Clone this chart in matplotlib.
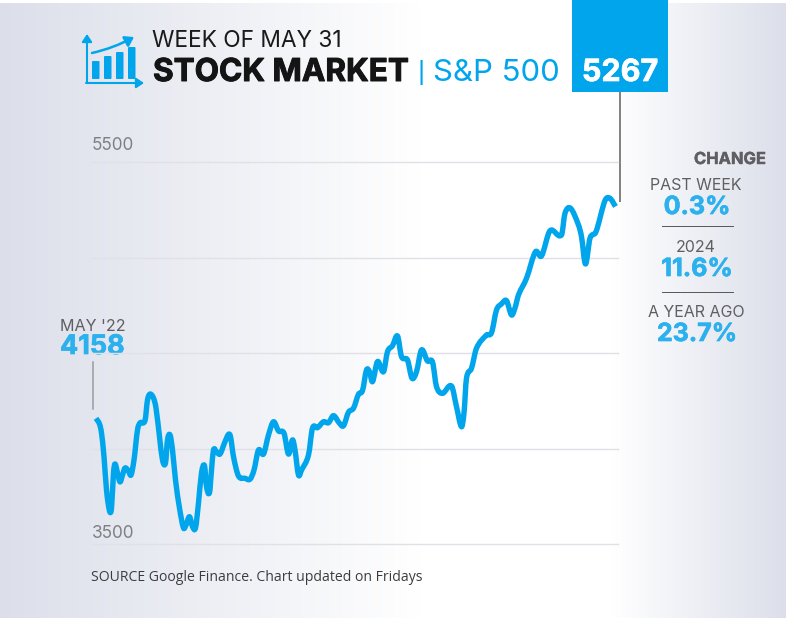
import numpy as np
import matplotlib
matplotlib.use('Agg')
import matplotlib.pyplot as plt
import matplotlib.patheffects as pe
from matplotlib.path import Path
from matplotlib.patches import Rectangle, FancyBboxPatch, FancyArrowPatch, PathPatch

# weeks since May '22 and S&P 500 close
weeks = [0, 0.7, 1.1, 1.6, 2.1, 2.7, 3.1, 3.5, 3.8, 4.3, 4.8, 5.3, 5.8, 6.5, 7, 7.6, 8.3, 8.8, 9.8, 10.3,
         10.8, 11.5, 12, 12.7, 13.3, 13.9, 14.3, 14.8, 15.3, 15.9, 16.7, 17.5, 18, 18.7, 19.3, 19.9, 20.5,
         21.1, 21.7, 22.1, 22.7, 23.1, 23.5, 24.1, 24.8, 25.7, 26.5, 26.9, 27.5, 28.5, 29.8, 30.8, 31.6,
         32.5, 33.5, 34.5, 35.5, 36.5, 37.6, 38.5, 39.3, 39.8, 40.5, 41.1, 42.5, 43.3, 44.3, 45.5, 46.5,
         47.5, 48.7, 49.5, 50.5, 51.5, 52.5, 53.3, 54.1, 54.7, 55.3, 56.3, 57.5, 58.3, 59.3, 60.3, 61.1,
         62.3, 63.2, 64.1, 65.1, 66.3, 67.3, 68.1, 69.3, 71.1, 72.1, 73.1, 73.6, 74.1, 75.1, 76.1, 78.1,
         79.1, 80.1, 81.1, 82.1, 83.1, 83.8, 84.5, 86.1, 87.9, 89.1, 90.8, 93.1, 93.8, 94.9, 96.5, 97.1,
         97.9, 98.8, 100, 101.8, 102.8, 103.9]
close = [4158, 4128, 4081, 3957, 3783, 3674, 3688, 3872, 3919, 3872, 3825, 3861, 3898, 3882, 3861, 3940,
         4097, 4134, 4146, 4254, 4285, 4264, 4212, 4062, 3940, 3924, 4045, 4071, 3992, 3835, 3688, 3584,
         3599, 3643, 3591, 3584, 3715, 3872, 3910, 3800, 3769, 3887, 3992, 3983, 3971, 4029, 4074, 4062,
         3957, 3856, 3844, 3839, 3887, 3992, 3971, 4071, 4140, 4092, 4080, 3971, 4045, 3992, 3861, 3887,
         3966, 4107, 4109, 4140, 4135, 4172, 4132, 4119, 4190, 4211, 4284, 4303, 4411, 4402, 4350, 4455,
         4402, 4507, 4538, 4589, 4481, 4463, 4368, 4402, 4516, 4458, 4453, 4324, 4289, 4327, 4219, 4114,
         4186, 4368, 4420, 4525, 4594, 4606, 4725, 4757, 4774, 4699, 4736, 4804, 4891, 5030, 5008, 5140,
         5118, 5232, 5258, 5170, 5109, 4966, 5101, 5135, 5298, 5310, 5267]
grid_levels = [3500, 4000, 4500, 5000, 5500]
label_levels = [3500, 5500]
change_labels = ['PAST WEEK', '2024', 'A YEAR AGO']
change_values = ['0.3%', '11.6%', '23.7%']

W, H = 786, 621
BLUE = '#00a5ec'
LIGHT_BLUE = '#2cb1ee'
GREY = '#5f5f63'
plt.rcParams['font.family'] = ['Inter', 'DejaVu Sans']


def smooth_path(x, y):
    # bezier through the read points so the line has no corners
    x = np.asarray(x, float)
    y = np.asarray(y, float)
    dx = np.gradient(x)
    dy = np.gradient(y)
    verts = [(x[0], y[0])]
    codes = [Path.MOVETO]
    for i in range(len(x) - 1):
        h = (x[i + 1] - x[i]) / 3
        s0 = dy[i] / dx[i]
        s1 = dy[i + 1] / dx[i + 1]
        verts += [(x[i] + h, y[i] + h * s0), (x[i + 1] - h, y[i + 1] - h * s1), (x[i + 1], y[i + 1])]
        codes += [Path.CURVE4] * 3
    return Path(verts, codes)


def heavy(color, w=0.5):
    # Inter Bold is lighter than the face in the picture
    return [pe.withStroke(linewidth=w, foreground=color)]


fig = plt.figure(figsize=(W / 100, H / 100), dpi=100)

# page in pixel coordinates, background and all the furniture goes here
bg = fig.add_axes([0, 0, 1, 1])
bg.axis('off')
xs = np.arange(W)
edge = np.array([220, 223, 234]) / 255
t = np.clip(np.maximum((420 - xs) / 420, (xs - 610) / 176), 0, 1)[None, :, None]
grad = 1 - (1 - edge) * t
bg.imshow(grad, extent=[0, W, 618, 3], aspect='auto', zorder=0)
bg.set_xlim(0, W)
bg.set_ylim(H, 0)

# chart
ax = fig.add_axes([92 / W, 1 - 544 / H, (618 - 92) / W, (544 - 162) / H])
ax.patch.set_alpha(0)
ax.set_xlim(-0.8, 104.4)
ax.set_ylim(3500, 5500)
for s in ax.spines.values():
    s.set_visible(False)
ax.set_xticks([])
ax.set_yticks(grid_levels)
ax.tick_params(length=0, labelleft=False)
ax.grid(axis='y', color='#e0e0e6', lw=1, clip_on=False)
ax.set_axisbelow(True)
ax.add_patch(PathPatch(smooth_path(weeks, close), fc='none', ec=BLUE, lw=3.9, joinstyle='round',
                       capstyle='butt', clip_on=False))
for lev, off in zip(label_levels, [6, 12]):
    ax.annotate(str(lev), (0, lev), xycoords=('axes fraction', 'data'), xytext=(0, off * 0.72),
                textcoords='offset points', fontsize=12.4, color='#808084', va='baseline', ha='left')

# leader lines
bg.plot([93, 93], [362, 409], color='#9a9a9e', lw=1.1)
bg.plot([620, 620], [92, 201], color='#808080', lw=1.4)

# value box
bg.add_patch(Rectangle((572, 0), 96, 92, color=BLUE, lw=0, zorder=3))
bg.text(620, 81, '5267', color='white', fontsize=22, fontweight='bold', ha='center', va='baseline', zorder=4,
        path_effects=heavy('white'))

# header
bg.text(152, 47, 'WEEK OF MAY 31', color='#1a1a1a', fontsize=16.4, va='baseline')
bg.text(153, 81, 'STOCK MARKET', color='#141414', fontsize=22.7, fontweight='bold', va='baseline',
        path_effects=heavy('#141414', 0.7))
bg.text(417, 81, '|', color=BLUE, fontsize=21, va='baseline', family=['Roboto', 'DejaVu Sans'])
bg.text(433, 81, 'S&P 500', color=BLUE, fontsize=22.4, va='baseline')

# icon
for x0, top in [(92, 61), (104, 56), (116, 52), (128, 47)]:
    bg.add_patch(FancyBboxPatch((x0 + 1, top + 1), 5.5, 77 - top, boxstyle='round,pad=1', color=BLUE, lw=0))
bg.add_patch(FancyArrowPatch((87, 83), (87, 34), arrowstyle='-|>,head_length=3,head_width=2', color=BLUE,
                             lw=1.5, mutation_scale=1.5, shrinkA=0, shrinkB=0))
bg.add_patch(FancyArrowPatch((86, 83), (144, 83), arrowstyle='-|>,head_length=3,head_width=2', color=BLUE,
                             lw=1.5, mutation_scale=1.5, shrinkA=0, shrinkB=0))
bg.add_patch(FancyArrowPatch((92, 53), (134, 37), connectionstyle='arc3,rad=0.07',
                             arrowstyle='-|>,head_length=3,head_width=2', color=BLUE, lw=1.8,
                             mutation_scale=1.7, shrinkA=0, shrinkB=0))

# start label
bg.text(60, 331, "MAY '22", color=GREY, fontsize=11.6, va='baseline')
bg.text(60, 354, '4158', color=LIGHT_BLUE, fontsize=19.4, fontweight='bold', va='baseline',
        path_effects=heavy(LIGHT_BLUE))

# change panel
bg.text(766, 164, 'CHANGE', color=GREY, fontsize=11.9, fontweight='bold', ha='right', va='baseline',
        path_effects=heavy(GREY, 0.3))
for lab, val, y0, y1 in zip(change_labels, change_values, [190, 252, 317], [214, 276, 341]):
    bg.text(696, y0, lab, color=GREY, fontsize=11.5, ha='center', va='baseline')
    bg.text(697, y1, val, color=LIGHT_BLUE, fontsize=18, fontweight='bold', ha='center', va='baseline',
            path_effects=heavy(LIGHT_BLUE))
for y in [226, 292]:
    bg.plot([662, 733], [y, y], color='#55555a', lw=0.7)

bg.text(91, 581, 'SOURCE Google Finance. Chart updated on Fridays', color='#3c3c40', fontsize=10.1,
        va='baseline', family=['Open Sans', 'DejaVu Sans'])

fig.savefig('out.png', dpi=100)
